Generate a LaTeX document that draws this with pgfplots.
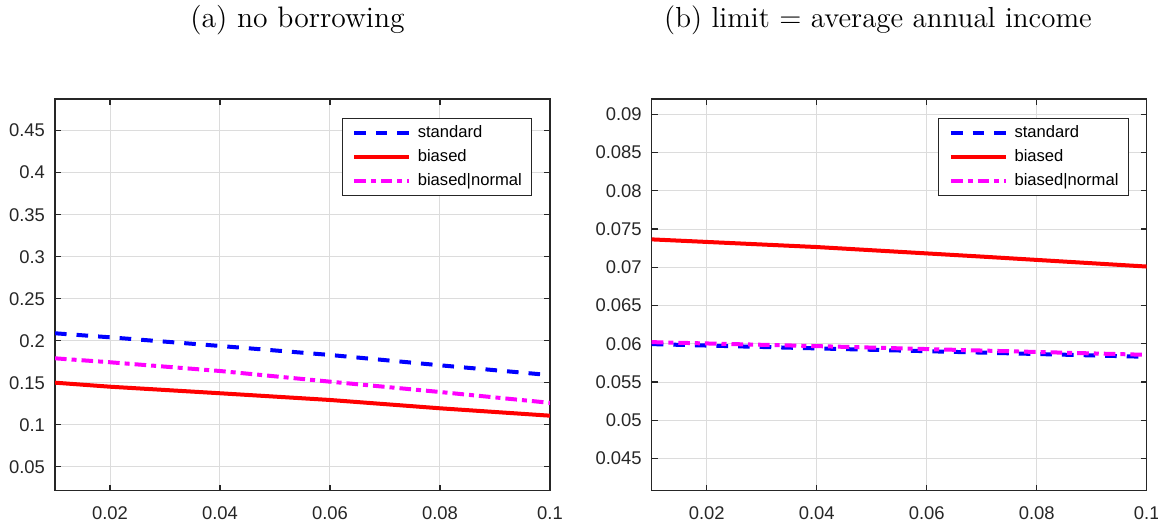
\documentclass[border=0pt]{standalone}
\usepackage{pgfplots}
\pgfplotsset{compat=1.18}
\usepackage{fontspec}
\newfontfamily\arialf{Liberation Sans}
\definecolor{axgray}{RGB}{38,38,38}
\definecolor{gridgray}{RGB}{220,220,220}
\definecolor{mmag}{RGB}{255,0,255}
\definecolor{mblue}{RGB}{0,0,255}
\definecolor{mred}{RGB}{255,0,0}
\pgfplotsset{
  matlab/.style={
    scale only axis, width=247.5pt, height=195.85pt,
    xmin=0.01, xmax=0.1,
    xtick={0.02,0.04,0.06,0.08,0.1},
    xticklabels={0.02,0.04,0.06,0.08,0.1},
    scaled ticks=false,
    grid=major, major grid style={gridgray, line width=0.5pt},
    axis line style={axgray, line width=0.6pt},
    tick style={axgray, line width=0.6pt},
    major tick length=3pt,
    tick align=inside,
    ticklabel style={font=\arialf\fontsize{9.2}{10}\selectfont, text=axgray},
    /pgf/number format/assume math mode=true,
    xticklabel style={yshift=-4.5pt},
    yticklabel style={xshift=-1.5pt},
    legend cell align=left,
    legend image code/.code={\draw[##1] (0pt,0pt) -- (27.5pt,0pt);},
    legend style={at={(1,1)}, anchor=north east, xshift=-8.85pt, yshift=-9.35pt,
      draw=axgray, line width=0.5pt, fill=white,
      font=\arialf\fontsize{8.3}{9}\selectfont,
      inner xsep=5pt, inner ysep=3.2pt, row sep=3.4pt, column sep=3.3pt,
      nodes={inner sep=0pt, text height=6.5pt, text depth=2pt}},
  },
  stdline/.style={mblue, line width=2pt, dash pattern=on 5.8pt off 5pt},
  biasline/.style={mred, line width=2pt},
  bnline/.style={mmag, line width=2pt, dash pattern=on 5.8pt off 2.5pt on 2.5pt off 2.5pt},
}
\begin{document}
\begin{tikzpicture}
\useasboundingbox (0,0) rectangle (579pt,260.5pt);
\node at (148.75pt,250.5pt) {\fontsize{14.8}{17}\selectfont (a) no borrowing};
\node at (439pt,250.5pt) {\fontsize{14.5}{17}\selectfont (b) limit = average annual income};
\begin{axis}[matlab, at={(27.5pt,15.15pt)}, anchor=south west,
  ymin=0.0214, ymax=0.4877,
  ytick={0.05,0.1,0.15,0.2,0.25,0.3,0.35,0.4,0.45},
  yticklabels={0.05,0.1,0.15,0.2,0.25,0.3,0.35,0.4,0.45}]
\addplot[stdline] coordinates {(0.01,0.2088) (0.02,0.2040) (0.04,0.1937) (0.06,0.1830) (0.08,0.1707) (0.1,0.1590)};
\addlegendentry{standard}
\addplot[biasline] coordinates {(0.01,0.1500) (0.02,0.1452) (0.04,0.1374) (0.06,0.1294) (0.08,0.1195) (0.1,0.1107)};
\addlegendentry{biased}
\addplot[bnline] coordinates {(0.01,0.1790) (0.02,0.1743) (0.04,0.1639) (0.06,0.1512) (0.08,0.1389) (0.1,0.1260)};
\addlegendentry{biased|normal}
\end{axis}
\begin{axis}[matlab, at={(325.85pt,15.15pt)}, anchor=south west,
  ymin=0.0408, ymax=0.0920,
  ytick={0.045,0.05,0.055,0.06,0.065,0.07,0.075,0.08,0.085,0.09},
  yticklabels={0.045,0.05,0.055,0.06,0.065,0.07,0.075,0.08,0.085,0.09}]
\addplot[stdline] coordinates {(0.01,0.05996) (0.04,0.05940) (0.07,0.05885) (0.1,0.05830)};
\addlegendentry{standard}
\addplot[biasline] coordinates {(0.01,0.07365) (0.04,0.07265) (0.07,0.07140) (0.1,0.07010)};
\addlegendentry{biased}
\addplot[bnline] coordinates {(0.01,0.06022) (0.04,0.05970) (0.07,0.05912) (0.1,0.05856)};
\addlegendentry{biased|normal}
\end{axis}
\end{tikzpicture}
\end{document}
